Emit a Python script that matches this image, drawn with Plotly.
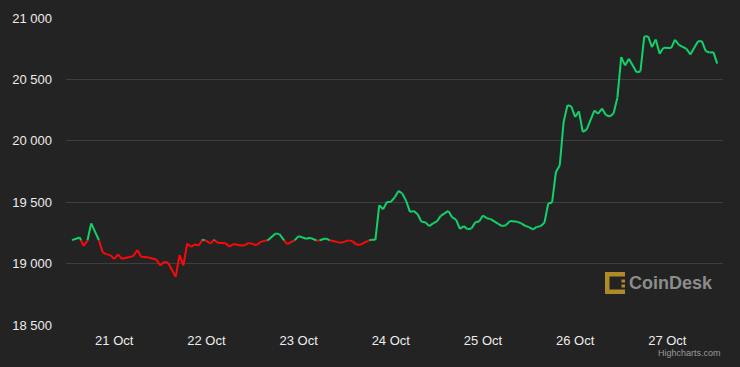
import plotly.graph_objects as go
import pandas as pd

# ---- data (hour offsets from 20 Oct 2022 13:00, BTC price in USD) ----
start_time = "2022-10-20 13:00"
hours = [0, 2, 3, 4, 5, 7, 8, 9, 10, 11, 12, 13, 15, 16, 17, 18, 20, 22, 23, 24,
         25, 27, 28, 29, 30, 31, 32, 33, 34, 35, 36, 37, 38, 40, 41, 42, 44, 45, 46, 48,
         49, 50, 51, 53, 54, 56, 58, 59, 61, 62, 64, 66, 67, 69, 70, 72, 73, 74, 75, 77,
         78, 79, 80, 81, 82, 83, 84, 85, 86, 87, 88, 89, 90, 91, 92, 93, 94, 95, 96, 98,
         99, 100, 101, 102, 103, 104, 105, 106, 107, 108, 109, 111, 112, 113, 114, 116, 117, 118, 119, 120,
         121, 122, 123, 124, 125, 126, 127, 128, 129, 130, 131, 132, 133, 134, 136, 137, 138, 139, 140, 141,
         142, 143, 144, 145, 147, 148, 149, 150, 151, 152, 153, 154, 156, 157, 158, 160, 161, 163, 164, 165,
         166, 167, 168]
prices = [19191, 19213, 19145, 19185, 19327, 19191, 19091, 19075, 19069, 19037, 19075, 19039, 19053, 19063, 19110, 19055, 19050, 19031, 18985, 19015,
          19007, 18893, 19069, 18985, 19164, 19137, 19156, 19148, 19195, 19185, 19164, 19193, 19169, 19166, 19137, 19159, 19148, 19150, 19169, 19150,
          19175, 19185, 19191, 19246, 19240, 19159, 19191, 19224, 19202, 19210, 19185, 19205, 19191, 19177, 19169, 19189, 19183, 19156, 19153, 19186,
          19195, 19194, 19476, 19443, 19502, 19502, 19538, 19592, 19571, 19511, 19421, 19429, 19402, 19340, 19337, 19305, 19327, 19343, 19389, 19429,
          19376, 19359, 19283, 19305, 19280, 19286, 19337, 19343, 19392, 19370, 19362, 19324, 19305, 19313, 19346, 19340, 19327, 19307, 19297, 19278,
          19299, 19305, 19332, 19489, 19498, 19746, 19801, 20153, 20289, 20281, 20194, 20240, 20072, 20091, 20246, 20221, 20263, 20210, 20198, 20223,
          20351, 20681, 20614, 20668, 20559, 20565, 20850, 20850, 20763, 20825, 20709, 20758, 20755, 20823, 20782, 20749, 20703, 20811, 20811, 20730,
          20719, 20722, 20628]
threshold = 19190

tick_dates = ["2022-10-21", "2022-10-22", "2022-10-23", "2022-10-24", "2022-10-25", "2022-10-26", "2022-10-27"]
tick_labels = ["21 Oct", "22 Oct", "23 Oct", "24 Oct", "25 Oct", "26 Oct", "27 Oct"]
y_ticks = [18500, 19000, 19500, 20000, 20500, 21000]

t0 = pd.Timestamp(start_time)

# split the line into above/below-threshold pieces (zone colouring)
up_x, up_y, dn_x, dn_y = [], [], [], []

def add(side, xs, ys):
    if side:
        up_x.extend(xs + [None]); up_y.extend(ys + [None])
    else:
        dn_x.extend(xs + [None]); dn_y.extend(ys + [None])

for i in range(len(hours) - 1):
    h1, h2 = hours[i], hours[i + 1]
    p1, p2 = prices[i], prices[i + 1]
    s1, s2 = p1 >= threshold, p2 >= threshold
    T1 = t0 + pd.Timedelta(hours=h1)
    T2 = t0 + pd.Timedelta(hours=h2)
    if s1 == s2:
        add(s1, [T1, T2], [p1, p2])
    else:
        f = (threshold - p1) / (p2 - p1)
        hc = h1 + f * (h2 - h1)
        Tc = t0 + pd.Timedelta(hours=hc)
        add(s1, [T1, Tc], [p1, threshold])
        add(s2, [Tc, T2], [threshold, p2])

fig = go.Figure()
fig.add_trace(go.Scatter(x=dn_x, y=dn_y, mode="lines", line=dict(color="#fa0a0a", width=2),
                         connectgaps=False, hoverinfo="skip", showlegend=False))
fig.add_trace(go.Scatter(x=up_x, y=up_y, mode="lines", line=dict(color="#12d26a", width=2),
                         connectgaps=False, hoverinfo="skip", showlegend=False))

x_lo = t0 - pd.Timedelta(hours=1.56)
x_hi = t0 + pd.Timedelta(hours=169.5)

font_family = "Liberation Sans, Arial, sans-serif"
fig.update_layout(
    width=740, height=367,
    margin=dict(l=66, r=17, t=18, b=42),
    paper_bgcolor="#232323", plot_bgcolor="#232323",
    separators=". ",
    font=dict(family=font_family, color="#e6e6e6", size=13),
    xaxis=dict(range=[x_lo, x_hi], tickvals=pd.to_datetime(tick_dates), ticktext=tick_labels,
               showgrid=False, zeroline=False, showline=False, ticks="", ticklabelstandoff=6,
               tickfont=dict(size=13, color="#ececec")),
    yaxis=dict(range=[18500, 21000], tickvals=y_ticks, tickformat=",d",
               showgrid=True, gridcolor="#3e3e3e", gridwidth=1, zeroline=False, showline=False,
               ticks="", ticklabelstandoff=13, tickfont=dict(size=13, color="#ececec")),
)

# CoinDesk watermark
gold = "#b08a2a"
shapes = [
    dict(x0=605, x1=625, y0=272, y1=276.5),
    dict(x0=605, x1=609.5, y0=272, y1=294),
    dict(x0=605, x1=625, y0=289.5, y1=294),
    dict(x0=621.5, x1=625, y0=279.5, y1=282.5),
    dict(x0=621.5, x1=625, y0=284.5, y1=287.5),
]
for s in shapes:
    fig.add_shape(type="rect", xref="paper", yref="paper",
                  x0=(s["x0"] - 66) / 657, x1=(s["x1"] - 66) / 657,
                  y0=(325 - s["y1"]) / 307, y1=(325 - s["y0"]) / 307,
                  fillcolor=gold, line=dict(width=0), layer="above")

fig.add_annotation(text="<b>CoinDesk</b>", xref="paper", yref="paper",
                   x=(627 - 66) / 657, y=(325 - 283) / 307, xanchor="left", yanchor="middle",
                   showarrow=False, font=dict(family=font_family, size=18, color="#8c8c8c"))
fig.add_annotation(text="Highcharts.com", xref="paper", yref="paper",
                   x=1.0, y=(325 - 353) / 307, xanchor="right", yanchor="middle",
                   showarrow=False, font=dict(family=font_family, size=9, color="#9a9a9a"))

fig.write_html("out.html")
